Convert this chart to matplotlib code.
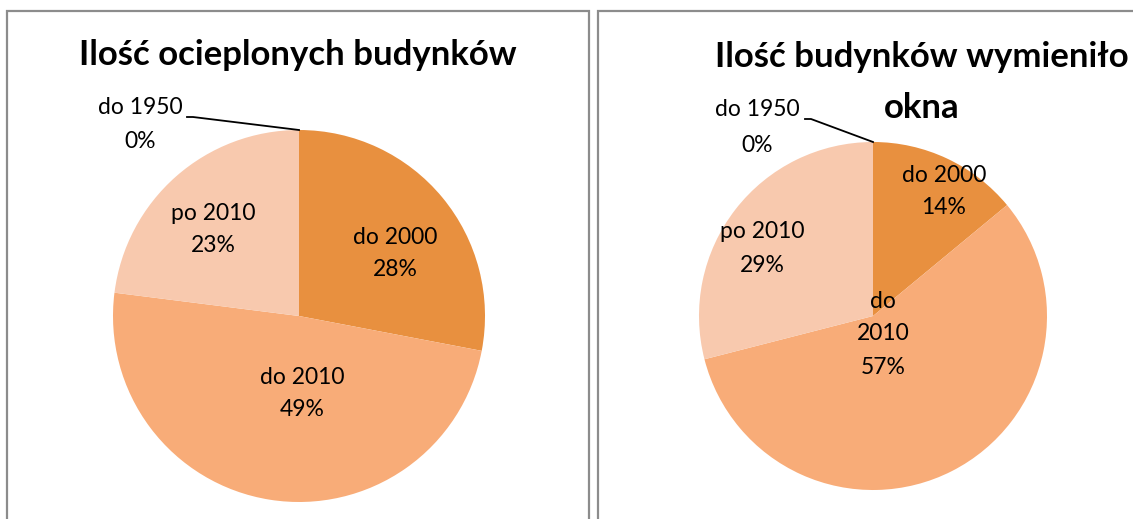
import matplotlib.pyplot as plt
from matplotlib.patches import Rectangle

plt.rcParams['font.family'] = ['Lato', 'DejaVu Sans']

# dane
kategorie = ['do 1950', 'do 2000', 'do 2010', 'po 2010']
ocieplone = [0, 28, 49, 23]
okna = [0, 14, 57, 29]
kolory = ['#C46A2A', '#E8903F', '#F8AC78', '#F8C9AE']

W, H = 1133, 519
fig = plt.figure(figsize=(W / 100, H / 100), dpi=100)
ax = fig.add_axes([0, 0, 1, 1])


def y(v):
    # y liczone od gory obrazka
    return H - v


# ramki wykresow
ax.add_patch(Rectangle((7, -10), 582, y(11) + 10, fill=False, ec='#8c8c8c', lw=1.6))
ax.add_patch(Rectangle((598, -10), 600, y(11) + 10, fill=False, ec='#8c8c8c', lw=1.6))

wp = dict(linewidth=0)
ax.pie(ocieplone, colors=kolory, startangle=90, counterclock=False,
       center=(299, y(316)), radius=186, wedgeprops=wp, frame=True)
ax.pie(okna, colors=kolory, startangle=90, counterclock=False,
       center=(873, y(316)), radius=174, wedgeprops=wp, frame=True)
ax.set_xlim(0, W)
ax.set_ylim(0, H)
ax.set_aspect('equal')
ax.axis('off')

# tytuly
ax.text(298, y(55), 'Ilość ocieplonych budynków', ha='center', va='center',
        fontsize=25, fontweight='bold')
ax.text(922, y(57), 'Ilość budynków wymieniło', ha='center', va='center',
        fontsize=25, fontweight='bold')
ax.text(922, y(108), 'okna', ha='center', va='center',
        fontsize=25, fontweight='bold')

fs = 16.5
etykiety_l = [
    (140, 108, 142, 0),
    (395, 237, 269, 1),
    (302, 378, 410, 2),
    (213, 213, 245, 3),
]
for x0, y1, y2, i in etykiety_l:
    ax.text(x0, y(y1), kategorie[i], ha='center', va='center', fontsize=fs)
    ax.text(x0, y(y2), f'{ocieplone[i]}%', ha='center', va='center', fontsize=fs)

ax.plot([187, 193, 299], [y(117), y(117), y(130)], color='black', lw=1.3)

etykiety_p = [
    (757, 110, 145, 0),
    (944, 175, 208, 1),
    (762, 232, 265, 3),
]
for x0, y1, y2, i in etykiety_p:
    ax.text(x0, y(y1), kategorie[i], ha='center', va='center', fontsize=fs)
    ax.text(x0, y(y2), f'{okna[i]}%', ha='center', va='center', fontsize=fs)
ax.text(883, y(302), 'do', ha='center', va='center', fontsize=fs)
ax.text(883, y(334), '2010', ha='center', va='center', fontsize=fs)
ax.text(883, y(367), f'{okna[2]}%', ha='center', va='center', fontsize=fs)

ax.plot([805, 811, 873], [y(119), y(119), y(142)], color='black', lw=1.3)

fig.savefig('out.png', dpi=100)
